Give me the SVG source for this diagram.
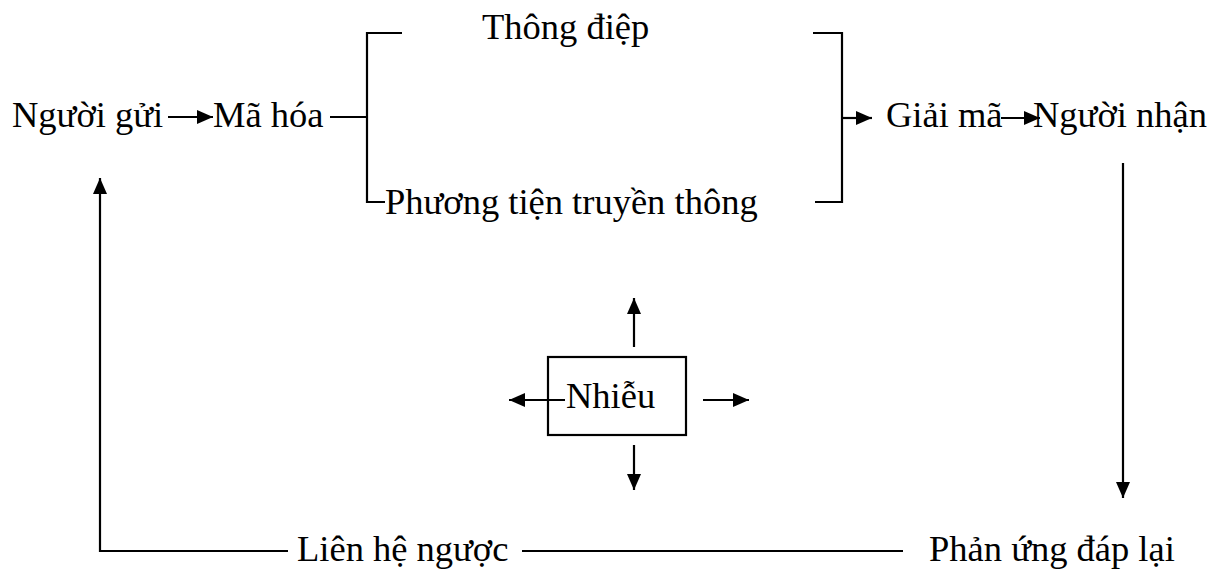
<svg xmlns="http://www.w3.org/2000/svg" width="1214" height="569" viewBox="0 0 1214 569">
<style>
text{font-family:"Liberation Serif","Times New Roman",serif;font-size:36.5px;fill:#000}
.ln{stroke:#000;stroke-width:2.2;fill:none}
</style>
<defs>
<marker id="ah" viewBox="0 0 16 14" refX="16" refY="7" markerWidth="16" markerHeight="14" markerUnits="userSpaceOnUse" orient="auto">
<path d="M0,0 L16,7 L0,14 Z" fill="#000"/>
</marker>
</defs>
<rect width="1214" height="569" fill="#fff"/>
<g id="nguoi-gui"><text x="12" y="127">Người gửi</text></g>
<g id="ma-hoa"><text x="213" y="127">Mã hóa</text></g>
<g id="thong-diep"><text x="482" y="39">Thông điệp</text></g>
<g id="phuong-tien"><text x="385" y="214">Phương tiện truyền thông</text></g>
<g id="giai-ma"><text x="886" y="127">Giải mã</text></g>
<g id="nguoi-nhan"><text x="1033" y="127">Người nhận</text></g>
<g id="phan-ung"><text x="929" y="561">Phản ứng đáp lại</text></g>
<g id="lien-he"><text x="297" y="561">Liên hệ ngược</text></g>
<g id="nhieu"><rect x="548" y="357" width="138" height="78" class="ln"/><text x="566" y="408">Nhiễu</text></g>
<g id="connectors">
<line x1="168" y1="117" x2="213" y2="117" class="ln" marker-end="url(#ah)"/>
<polyline points="330,117 367,117" class="ln"/>
<polyline points="402,33 367,33 367,202 385,202" class="ln"/>
<polyline points="813,33 842,33 842,202 815,202" class="ln"/>
<line x1="842" y1="118" x2="872" y2="118" class="ln" marker-end="url(#ah)"/>
<line x1="1001" y1="118" x2="1040" y2="118" class="ln" marker-end="url(#ah)"/>
<line x1="1123" y1="163" x2="1123" y2="498" class="ln" marker-end="url(#ah)"/>
<line x1="903" y1="551" x2="522" y2="551" class="ln"/>
<polyline points="288,551 100,551 100,178" class="ln" marker-end="url(#ah)"/>
<line x1="634" y1="347" x2="634" y2="298" class="ln" marker-end="url(#ah)"/>
<line x1="634" y1="445" x2="634" y2="490" class="ln" marker-end="url(#ah)"/>
<line x1="565" y1="400" x2="509" y2="400" class="ln" marker-end="url(#ah)"/>
<line x1="703" y1="400" x2="749" y2="400" class="ln" marker-end="url(#ah)"/>
</g>
</svg>
